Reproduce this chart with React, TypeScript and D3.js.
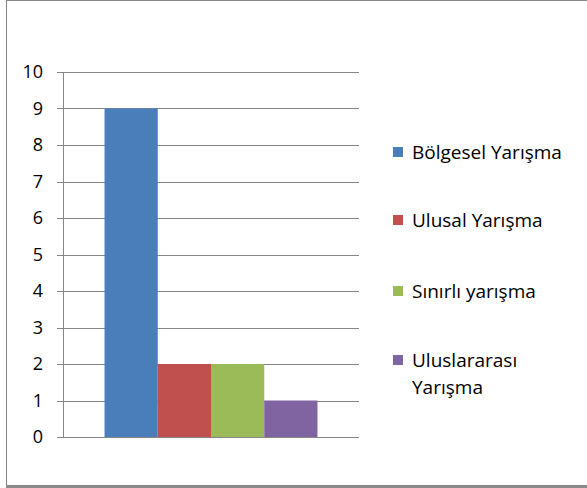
import * as d3 from "d3";
import { useEffect, useRef } from "react";

const categories = ["Bölgesel Yarışma", "Ulusal Yarışma", "Sınırlı yarışma", "Uluslararası Yarışma"];
const values = [9, 2, 2, 1];
const colors = ["#4a7ebb", "#c0504d", "#9bbb59", "#8064a2"];
const yTicks = [0, 1, 2, 3, 4, 5, 6, 7, 8, 9, 10];
// legend labels split into lines like the original
const legendLines = [["Bölgesel Yarışma"], ["Ulusal Yarışma"], ["Sınırlı yarışma"], ["Uluslararası", "Yarışma"]];

export default function App() {
  const ref = useRef<SVGSVGElement>(null);

  useEffect(() => {
    const svg = d3.select(ref.current);
    svg.selectAll("*").remove();
    const font = "'Open Sans', 'Liberation Sans', Arial, sans-serif";

    // chart frame
    svg.append("rect").attr("x", 6.5).attr("y", 0.5).attr("width", 600).attr("height", 485)
      .attr("fill", "#fff").attr("stroke", "#868686").attr("stroke-width", 1);
    svg.append("line").attr("x1", 6).attr("x2", 587).attr("y1", 486.5).attr("y2", 486.5)
      .attr("stroke", "#8a8a8a").attr("stroke-width", 3);

    const left = 63, right = 359, top = 72, bottom = 437;
    const y = d3.scaleLinear().domain([0, 10]).range([bottom, top]);
    const x0 = d3.scaleBand().domain(["all"]).range([left, right]).paddingInner(0).paddingOuter(0.195);
    const x = d3.scaleBand().domain(categories).range([x0("all")!, x0("all")! + x0.bandwidth()]);

    // gridlines
    svg.append("g").selectAll("line").data(yTicks).enter().append("line")
      .attr("x1", left - 6).attr("x2", right)
      .attr("y1", d => Math.round(y(d)) + 0.5).attr("y2", d => Math.round(y(d)) + 0.5)
      .attr("stroke", "#868686").attr("stroke-width", 1);

    // y axis line
    svg.append("line").attr("x1", left + 0.5).attr("x2", left + 0.5).attr("y1", top).attr("y2", bottom)
      .attr("stroke", "#868686");

    // tick labels
    svg.append("g").selectAll("text").data(yTicks).enter().append("text")
      .attr("x", 43).attr("y", d => y(d)).attr("dy", "0.35em")
      .attr("text-anchor", "end").attr("font-family", font).attr("font-size", 18).attr("fill", "#000")
      .text(d => d);

    // bars
    svg.append("g").selectAll("rect").data(values).enter().append("rect")
      .attr("x", (d, i) => x(categories[i])!).attr("width", x.bandwidth())
      .attr("y", d => y(d)).attr("height", d => y(0) - y(d))
      .attr("fill", (d, i) => colors[i]);

    // legend
    const legendY = [152, 220, 291, 360];
    const lg = svg.append("g");
    legendLines.forEach((lines, i) => {
      lg.append("rect").attr("x", 393).attr("y", legendY[i] - 5).attr("width", 10).attr("height", 10)
        .attr("fill", colors[i]);
      lines.forEach((t, j) => {
        lg.append("text").attr("x", 412).attr("y", legendY[i] + j * 27).attr("dy", "0.35em")
          .attr("font-family", font).attr("font-size", 19).attr("fill", "#000").text(t);
      });
    });
  }, []);

  return (
    <svg ref={ref} width={587} height={488} style={{ position: "absolute", left: 0, top: 0 }} />
  );
}
